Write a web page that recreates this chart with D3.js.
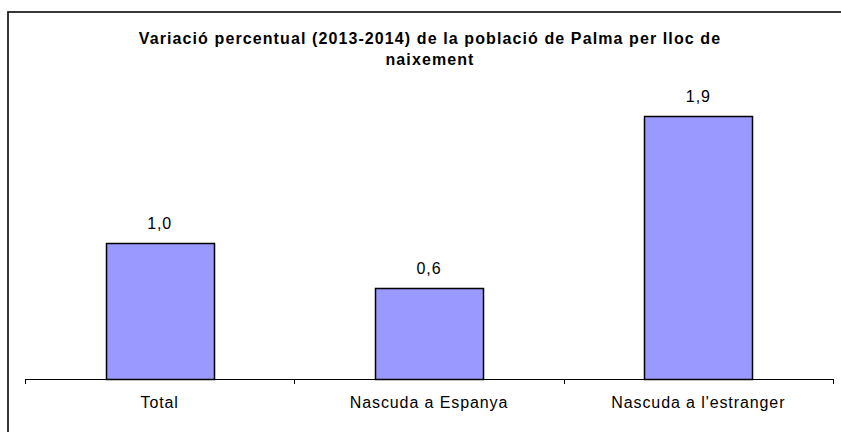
<!DOCTYPE html>
<html>
<head>
<meta charset="utf-8">
<script src="https://cdn.jsdelivr.net/npm/d3@7"></script>
<style>
  body { margin: 0; background: #fff; }
  text { font-family: Arial, "Liberation Sans", sans-serif; fill: #000; }
</style>
</head>
<body>
<div class="chart-holder"></div>
<script>
let categories = ['Total', 'Nascuda a Espanya', "Nascuda a l'estranger"]
let values = [0.98, 0.66, 1.9]
let valueLabels = ['1,0', '0,6', '1,9']
let titleLines = ['Variació percentual (2013-2014) de la població de Palma per lloc de', 'naixement']

let width = 841
let height = 432
let plot = { left: 25, right: 833, bottom: 379, top: 102 }

let svg = d3.select('.chart-holder')
    .append('svg')
        .attr('width', width)
        .attr('height', height)

// outer frame, cut off on the right and bottom like the original
svg.append('rect')
    .attr('x', 8).attr('y', 12)
    .attr('width', 900).attr('height', 500)
    .attr('fill', 'none')
    .attr('stroke', '#222')
    .attr('stroke-width', 1.8)

svg.append('g').attr('class', 'title')
    .selectAll('text')
    .data(titleLines)
    .enter()
    .append('text')
        .attr('x', 430)
        .attr('y', (d, i) => 44 + i * 21)
        .attr('text-anchor', 'middle')
        .attr('font-size', '16px')
        .attr('font-weight', 'bold')
        .attr('letter-spacing', '1.1px')
        .text(d => d)

let x = d3.scaleBand()
    .domain(categories)
    .range([plot.left, plot.right])
    .paddingInner(0.6)
    .paddingOuter(0.3)

let y = d3.scaleLinear()
    .domain([0, 2])
    .range([plot.bottom, plot.top])

let xAxis = d3.axisBottom(x).tickSize(0).tickPadding(18)

let axis = svg.append('g').attr('class', 'x-axis')
    .attr('transform', 'translate(0,' + plot.bottom + ')')
    .call(xAxis)

axis.select('.domain').attr('stroke', '#000')
axis.selectAll('.tick text')
    .attr('font-size', '16px')
    .attr('letter-spacing', '0.9px')
    .attr('font-family', 'Arial, "Liberation Sans", sans-serif')
    .attr('fill', '#000')

// category boundary ticks
let step = (plot.right - plot.left) / categories.length
axis.selectAll('.bound')
    .data(d3.range(categories.length + 1))
    .enter()
    .append('line').attr('class', 'bound')
        .attr('x1', d => Math.round(plot.left + d * step) + 0.5)
        .attr('x2', d => Math.round(plot.left + d * step) + 0.5)
        .attr('y1', 0).attr('y2', 5)
        .attr('stroke', '#000')

let bars = svg.append('g').attr('class', 'bars')

bars.selectAll('rect')
    .data(values)
    .enter()
    .append('rect')
        .attr('x', (d, i) => Math.round(x(categories[i])) + 0.5)
        .attr('y', d => Math.round(y(d)) + 0.5)
        .attr('width', Math.round(x.bandwidth()))
        .attr('height', d => Math.round(y(0)) - Math.round(y(d)))
        .attr('fill', '#9999FF')
        .attr('stroke', '#000')
        .attr('stroke-width', 1.5)

bars.selectAll('text')
    .data(values)
    .enter()
    .append('text')
        .attr('x', (d, i) => x(categories[i]) + x.bandwidth() / 2)
        .attr('y', d => y(d) - 14)
        .attr('text-anchor', 'middle')
        .attr('font-size', '16px')
        .attr('letter-spacing', '0.9px')
        .text((d, i) => valueLabels[i])
</script>
</body>
</html>
